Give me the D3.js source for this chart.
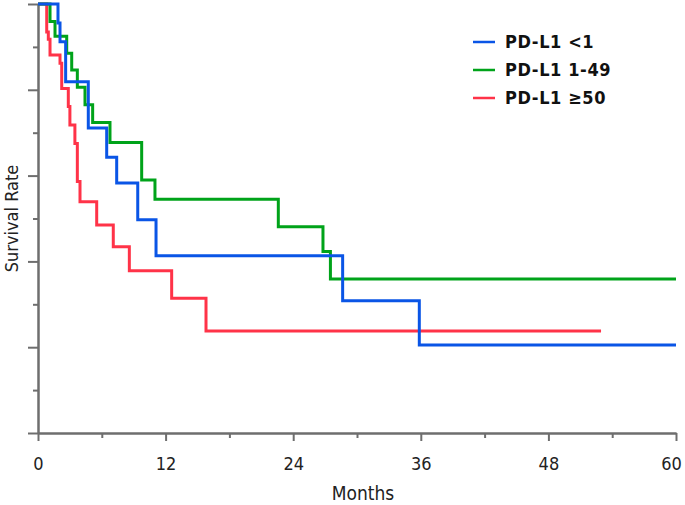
<!DOCTYPE html>
<html>
<head>
<meta charset="utf-8">
<script src="https://cdn.jsdelivr.net/npm/d3@7"></script>
<style>
  body { margin: 0; background: #fff; }
  text { font-family: "DejaVu Sans Condensed", "DejaVu Sans", sans-serif; }
</style>
</head>
<body>
<div id="chart"></div>
<script>
// Kaplan-Meier step points (months, survival)
const lowMonths  = [0, 1.88, 2.07, 2.6, 4.73, 6.46, 7.4, 9.38, 11.1, 28.65, 35.86, 60];
const lowSurv    = [1, 0.956, 0.912, 0.819, 0.711, 0.643, 0.583, 0.497, 0.413, 0.308, 0.205, 0.205];

const midMonths  = [0, 1.13, 1.6, 2.7, 3.17, 3.7, 4.42, 5.14, 6.77, 9.75, 11.0, 22.6, 26.8, 27.5, 60];
const midSurv    = [1, 0.959, 0.925, 0.885, 0.846, 0.806, 0.765, 0.724, 0.677, 0.590, 0.545, 0.481, 0.423, 0.359, 0.359];

const highMonths = [0, 0.82, 0.97, 1.13, 2.07, 2.23, 2.85, 3.0, 3.47, 3.7, 3.95, 5.52, 7.08, 8.59, 12.57, 15.8, 52.95];
const highSurv   = [1, 0.935, 0.918, 0.881, 0.862, 0.803, 0.761, 0.718, 0.675, 0.586, 0.539, 0.485, 0.434, 0.378, 0.314, 0.238, 0.238];

const groupNames  = ["PD-L1 <1", "PD-L1 1-49", "PD-L1 \u226550"];
const groupColors = ["#0a55e6", "#00a31a", "#ff3348"];

const xTicks = [0, 12, 24, 36, 48, 60];
const xMinor = [6, 18, 30, 42, 54];
const yMajor = [0, 0.2, 0.4, 0.6, 0.8, 1];
const yMinor = [0.1, 0.3, 0.5, 0.7, 0.9];

const width = 685, height = 505;
const svg = d3.select("#chart").append("svg")
    .attr("width", width)
    .attr("height", height);

const x = d3.scaleLinear().domain([0, 60]).range([38, 676]);
const y = d3.scaleLinear().domain([0, 1]).range([433, 4]);

const axisColor = "#6e6e6e";

// x axis: minor ticks first, then major with labels
svg.append("g")
    .attr("transform", `translate(0,${y(0)})`)
    .call(d3.axisBottom(x).tickValues(xMinor).tickSize(5).tickSizeOuter(0).tickFormat(""));
const xG = svg.append("g")
    .attr("transform", `translate(0,${y(0)})`)
    .call(d3.axisBottom(x).tickValues(xTicks).tickSize(8).tickSizeOuter(0).tickPadding(16));

// y axis without labels
svg.append("g")
    .attr("transform", `translate(${x(0)},0)`)
    .call(d3.axisLeft(y).tickValues(yMinor).tickSize(5).tickSizeOuter(0).tickFormat(""));
svg.append("g")
    .attr("transform", `translate(${x(0)},0)`)
    .call(d3.axisLeft(y).tickValues(yMajor).tickSize(10).tickSizeOuter(0).tickFormat(""));

svg.selectAll(".domain, .tick line")
    .attr("stroke", axisColor)
    .attr("stroke-width", 2);
xG.selectAll(".tick text")
    .attr("font-size", 18)
    .attr("fill", "#222");
// keep the last label inside the frame
xG.selectAll(".tick text").filter(d => d === 60).attr("dx", -5);

svg.append("text")
    .attr("x", 363)
    .attr("y", 500)
    .attr("text-anchor", "middle")
    .attr("font-size", 19)
    .attr("fill", "#222")
    .text("Months");

svg.append("text")
    .attr("transform", `translate(18,${y(0.5)}) rotate(-90)`)
    .attr("text-anchor", "middle")
    .attr("font-size", 18)
    .attr("fill", "#222")
    .text("Survival Rate");

// curves
const series = [
    lowMonths.map((m, i) => [m, lowSurv[i]]),
    midMonths.map((m, i) => [m, midSurv[i]]),
    highMonths.map((m, i) => [m, highSurv[i]])
];

const line = d3.line()
    .x(d => x(d[0]))
    .y(d => y(d[1]))
    .curve(d3.curveStepAfter);

// draw red first so blue/green sit on top like the original
[2, 1, 0].forEach(i => {
    svg.append("path")
        .datum(series[i])
        .attr("fill", "none")
        .attr("stroke", groupColors[i])
        .attr("stroke-width", 3)
        .attr("d", line);
});

// legend
const legend = svg.append("g").attr("transform", "translate(473,42)");
groupNames.forEach((name, i) => {
    const row = legend.append("g").attr("transform", `translate(0,${i * 28})`);
    row.append("line")
        .attr("x1", 0).attr("x2", 22)
        .attr("stroke", groupColors[i])
        .attr("stroke-width", 2.5);
    row.append("text")
        .attr("x", 32)
        .attr("dy", "0.35em")
        .attr("font-size", 18)
        .attr("font-weight", "bold")
        .attr("letter-spacing", 0.6)
        .attr("font-family", "'DejaVu Sans', sans-serif")
        .attr("fill", "#111")
        .text(name);
});
</script>
</body>
</html>
